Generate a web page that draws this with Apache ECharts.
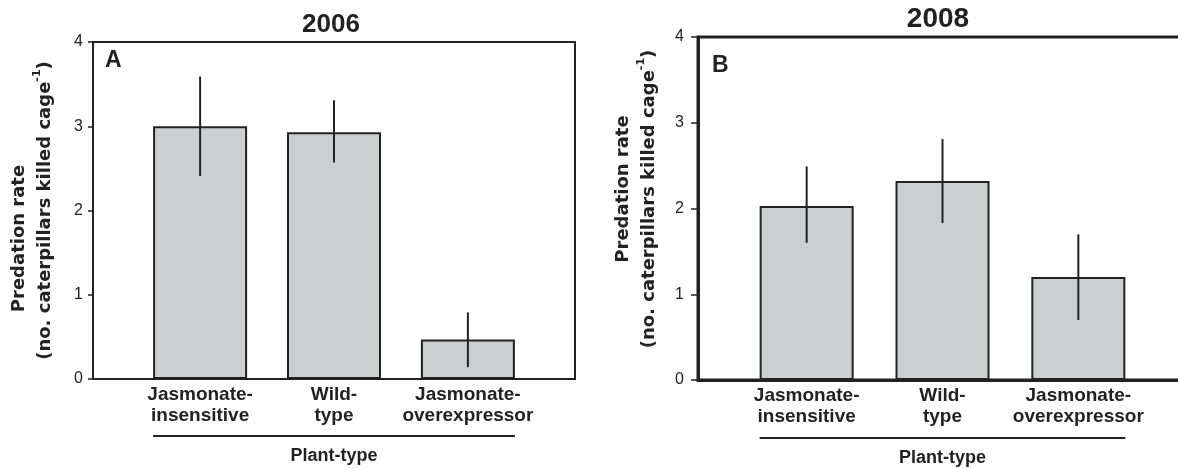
<!DOCTYPE html>
<html>
<head>
<meta charset="utf-8">
<script src="https://cdn.jsdelivr.net/npm/echarts@6/dist/echarts.min.js"></script>
<style>
html,body{margin:0;padding:0;background:#fff;}
#c{width:1178px;height:469px;}
</style>
</head>
<body>
<div id="c"></div>
<script>
// ---- data ----
const categories = ['Jasmonate-\ninsensitive', 'Wild-\ntype', 'Jasmonate-\noverexpressor'];
const panelTitles = ['2006', '2008'];
const panelLetters = ['A', 'B'];
const yMin = 0, yMax = 4, yStep = 1;
const means2006 = [3.00, 2.93, 0.47];
const lower2006 = [2.41, 2.57, 0.14];
const upper2006 = [3.59, 3.31, 0.79];
const means2008 = [2.03, 2.32, 1.20];
const lower2008 = [1.60, 1.83, 0.70];
const upper2008 = [2.49, 2.81, 1.70];
const xTitle = 'Plant-type';

// ---- styling ----
const INK = '#222';
const FONT = "'Liberation Sans', Arial, sans-serif";
const YFONT = "'DejaVu Sans', 'Liberation Sans', sans-serif";

const panels = [
  {grid:{left:93, top:42, width:482, height:337}, frame:2, barW:94, tick:5, lblMargin:10, nameGap:35,
   l1pad:[0,56,0,0], namePad:[0,0,0,0], brOff:57, xNameGap:68,
   means:means2006, lo:lower2006, hi:upper2006},
  {grid:{left:698, top:37, width:489, height:343}, frame:3, barW:94, tick:7, lblMargin:14, nameGap:36,
   l1pad:[0,0,0,20], namePad:[0,0,0,19], brOff:58, xNameGap:69,
   means:means2008, lo:lower2008, hi:upper2008}
];

function errItem(params, api) {
  const x = api.value(0);
  const a = api.coord([x, api.value(1)]);
  const b = api.coord([x, api.value(2)]);
  return {type:'line', shape:{x1:a[0], y1:a[1], x2:b[0], y2:b[1]}, style:{stroke:INK, lineWidth:2}};
}
function bracketItem(bw, off) {
  return function (params, api) {
    const a = api.coord([api.value(0), 0]);
    const b = api.coord([api.value(1), 0]);
    return {type:'line', shape:{x1:a[0]-bw/2, y1:a[1]+off, x2:b[0]+bw/2, y2:a[1]+off},
            style:{stroke:INK, lineWidth:2}};
  };
}

const option = {
  animation:false,
  backgroundColor:'#fff',
  title:[
    {text:panelTitles[0], left:331, top:12, textAlign:'center', padding:0,
     textStyle:{fontSize:26, fontWeight:'bold', color:INK, fontFamily:FONT}},
    {text:panelTitles[1], left:938, top:5, textAlign:'center', padding:0,
     textStyle:{fontSize:28, fontWeight:'bold', color:INK, fontFamily:FONT}},
    {text:panelLetters[0], left:105, top:49, padding:0,
     textStyle:{fontSize:23, fontWeight:'bold', color:INK, fontFamily:FONT}},
    {text:panelLetters[1], left:712, top:54, padding:0,
     textStyle:{fontSize:23, fontWeight:'bold', color:INK, fontFamily:FONT}}
  ],
  grid:[], xAxis:[], yAxis:[], series:[]
};

panels.forEach((p, i) => {
  option.grid.push(Object.assign({show:true, borderColor:INK, borderWidth:p.frame, backgroundColor:'transparent',
    containLabel:false, outerBoundsMode:'none'}, p.grid));
  option.xAxis.push({
    type:'value', gridIndex:i, min:-0.8, max:2.8,
    splitLine:{show:false}, axisTick:{show:false},
    axisLine:{show:true, onZero:false, lineStyle:{color:INK, width:p.frame}},
    axisLabel:{customValues:[0,1,2], formatter:(v)=>categories[Math.round(v)] || '',
      margin:5, fontSize:19, fontWeight:'bold', lineHeight:21, color:INK, fontFamily:FONT},
    name:xTitle, nameLocation:'middle', nameGap:p.xNameGap,
    nameTextStyle:{fontSize:18, fontWeight:'bold', color:INK, fontFamily:FONT}
  });
  option.yAxis.push({
    type:'value', gridIndex:i, min:yMin, max:yMax, interval:yStep,
    splitLine:{show:false},
    axisLine:{show:true, onZero:false, lineStyle:{color:INK, width:p.frame}},
    axisTick:{show:true, length:p.tick, lineStyle:{color:INK, width:1.5}},
    axisLabel:{margin:p.lblMargin, fontSize:16, color:INK, fontFamily:FONT},
    name:'{l1|Predation rate}\n{l2|(no. caterpillars killed cage}{sup|-1}{l2|)}',
    nameLocation:'middle', nameGap:p.nameGap, nameRotate:90,
    nameTextStyle:{fontSize:18, fontWeight:'bold', color:INK, fontFamily:YFONT, lineHeight:26,
      padding:p.namePad,
      rich:{
        l1:{fontSize:18, fontWeight:'bold', color:INK, fontFamily:YFONT, lineHeight:26, padding:p.l1pad},
        l2:{fontSize:18, fontWeight:'bold', color:INK, fontFamily:YFONT, lineHeight:26},
        sup:{fontSize:11, fontWeight:'bold', color:INK, fontFamily:YFONT, lineHeight:13, verticalAlign:'top'}
      }}
  });
  option.series.push({
    type:'bar', xAxisIndex:i, yAxisIndex:i, barWidth:p.barW,
    data:p.means.map((v, k) => [k, v]),
    itemStyle:{color:'#cdced0', borderColor:INK, borderWidth:2},
    z:2, silent:true
  });
  option.series.push({
    type:'custom', xAxisIndex:i, yAxisIndex:i, renderItem:errItem,
    data:p.means.map((v, k) => [k, p.lo[k], p.hi[k]]),
    z:3, silent:true
  });
  option.series.push({
    type:'custom', xAxisIndex:i, yAxisIndex:i, renderItem:bracketItem(p.barW, p.brOff),
    data:[[0, categories.length - 1]], clip:false, z:3, silent:true
  });
});

const chart = echarts.init(document.getElementById('c'), null, {renderer:'canvas'});
chart.setOption(option);
</script>
</body>
</html>
